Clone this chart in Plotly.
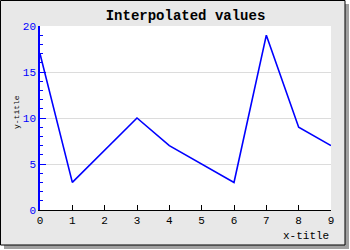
import plotly.graph_objects as go

x_vals = [0, 1, 2, 3, 4, 5, 6, 7, 8, 9]
y_vals = [17, 3, None, 10, 7, None, 3, 19, 9, 7]
title_text = "Interpolated values"
x_title = "x-title"
y_title = "y-title"

W, H = 350, 250
L, R, T, B = 40, 331, 26, 210


def px(x):
    return (x - L) / (R - L)


def py(y):
    return (B - y) / (B - T)


fig = go.Figure()
fig.add_trace(go.Scatter(x=x_vals, y=y_vals, mode="lines", connectgaps=True,
                         line=dict(color="#0000ff", width=1.6), hoverinfo="skip"))

mono = "Liberation Mono, DejaVu Sans Mono, monospace"
shapes = [
    dict(type="rect", xref="paper", yref="paper", x0=px(4), x1=px(349), y0=py(4), y1=py(249),
         fillcolor="#a0a0a0", line=dict(width=0), layer="below"),
    dict(type="rect", xref="paper", yref="paper", x0=px(0.5), x1=px(345), y0=py(0.5), y1=py(245),
         fillcolor="#e8e8e8", line=dict(color="black", width=1), layer="below"),
    dict(type="rect", xref="paper", yref="paper", x0=0, x1=1, y0=0, y1=1,
         fillcolor="white", line=dict(width=0), layer="below"),
]

fig.update_layout(
    width=W, height=H,
    margin=dict(l=L, r=W - R, t=T, b=H - B),
    paper_bgcolor="white", plot_bgcolor="rgba(0,0,0,0)",
    showlegend=False,
    shapes=shapes,
    title=dict(text="<b>" + title_text + "</b>", x=0.5, xref="paper", y=1 - 15 / H, yanchor="middle",
               font=dict(family=mono, size=14, color="black")),
    xaxis=dict(range=[0, 9], tickvals=x_vals, ticks="inside", ticklen=5, tickcolor="black",
               showline=True, linecolor="black", linewidth=1, showgrid=False, zeroline=False,
               tickfont=dict(family=mono, size=11, color="black")),
    yaxis=dict(range=[0, 20], tickvals=[0, 5, 10, 15, 20], ticks="inside", ticklen=6, tickcolor="#0000ff",
               showline=True, linecolor="#0000ff", linewidth=1.5, showgrid=True, gridcolor="#dcdcdc",
               zeroline=False, tickfont=dict(family=mono, size=11, color="#0000ff"),
               minor=dict(dtick=1, ticks="inside", ticklen=3, tickcolor="#0000ff", showgrid=False)),
    annotations=[
        dict(text=x_title, xref="paper", yref="paper", x=1, y=py(236), xanchor="right", yanchor="middle",
             showarrow=False, font=dict(family=mono, size=11, color="black")),
        dict(text=y_title, xref="paper", yref="paper", x=px(16), y=py(112), xanchor="center", yanchor="middle",
             textangle=-90, showarrow=False, font=dict(family=mono, size=8, color="black")),
    ],
)

fig.write_html("out.html")
